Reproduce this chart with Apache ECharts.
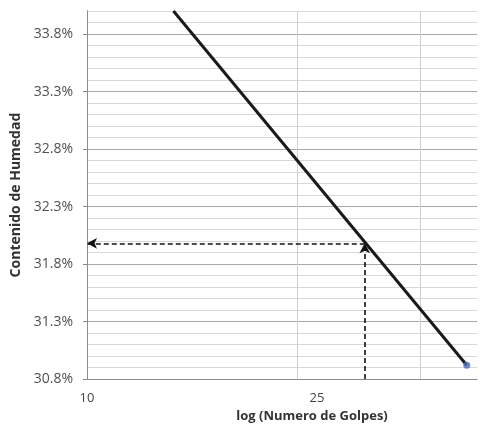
<!DOCTYPE html>
<html><head><meta charset="utf-8">
<script src="https://cdn.jsdelivr.net/npm/echarts@6/dist/echarts.min.js"></script>
<style>html,body{margin:0;padding:0;background:#fff}#c{width:480px;height:428px}</style>
</head><body><div id="c"></div>
<script>
// Trendline endpoints (Numero de Golpes, Contenido de Humedad %)
const golpes = [13.3, 35];
const humedad = [34.0, 30.92];
// Reading at 25 golpes
const golpesRef = 25;
const humedadRef = 31.98;
// Vertical grid values on the log axis
const xGridValues = [20, 30];
// Tick labels
const yMajorTicks = [30.8, 31.3, 31.8, 32.3, 32.8, 33.3, 33.8];
const xTickLabels = [10];
const xExtraLabel = '25';

const FONT = 'Open Sans';
const chart = echarts.init(document.getElementById('c'));
chart.setOption({
  backgroundColor: '#fff',
  animation: false,
  grid: { left: 87, right: 0, top: 11, bottom: 44 },
  xAxis: {
    type: 'log', logBase: 10, min: 10, max: 36.2,
    name: 'log (Numero de Golpes)', nameLocation: 'middle', nameGap: 20,
    nameTextStyle: { fontFamily: FONT, fontWeight: 'bold', fontSize: 13, color: '#333', padding: [0, 0, 0, 60] },
    axisLine: { show: true, lineStyle: { color: '#8a8a8a', width: 1 } },
    axisTick: { show: false },
    splitLine: { show: false },
    axisLabel: {
      fontFamily: FONT, fontSize: 13, color: '#444', margin: 13,
      formatter: v => xTickLabels.some(t => Math.abs(v - t) < 1e-6) ? String(Math.round(v)) : ''
    }
  },
  yAxis: [{
    type: 'value', min: 30.8, max: 34.0, interval: 0.1,
    name: 'Contenido de Humedad', nameLocation: 'middle', nameGap: 58,
    nameTextStyle: { fontFamily: FONT, fontWeight: 'bold', fontSize: 14, color: '#333' },
    axisLine: { show: true, lineStyle: { color: '#8a8a8a', width: 1 } },
    axisTick: { show: false },
    axisLabel: {
      fontFamily: FONT, fontSize: 14, color: '#505050', margin: 14,
      formatter: v => yMajorTicks.some(t => Math.abs(v - t) < 1e-6) ? v.toFixed(1) + '%' : ''
    },
    splitLine: { show: true, lineStyle: { color: ['#a8a8a8', '#d8d8d8', '#d8d8d8', '#d8d8d8', '#d8d8d8'], width: 1 } }
  }, {
    type: 'value', min: 30.8, max: 34.0, interval: 0.5, position: 'left',
    axisLine: { show: true, lineStyle: { color: '#8a8a8a', width: 1 } },
    axisTick: { show: true, length: 4, lineStyle: { color: '#8a8a8a' }, customValues: yMajorTicks },
    axisLabel: { show: false },
    splitLine: { show: false }
  }],
  graphic: [
    { type: 'rect', shape: { x: 293, y: 381, width: 57, height: 24 }, style: { fill: '#fff' }, z: 50 },
    { type: 'text', x: 317, y: 398, z: 51, style: { text: xExtraLabel, fontFamily: FONT, fontSize: 13, fill: '#444', align: 'center', verticalAlign: 'middle' } }
  ],
  series: [
    {
      type: 'line', data: [], silent: true,
      markLine: {
        silent: true, symbol: 'none', label: { show: false },
        lineStyle: { color: '#d0d0d0', width: 1, type: 'solid' },
        data: xGridValues.map(v => ({ xAxis: v }))
      }
    },
    {
      type: 'line', z: 5,
      data: golpes.map((g, i) => [g, humedad[i]]),
      symbol: 'none', lineStyle: { color: '#1a1a1a', width: 3 },
      markLine: {
        silent: true, symbol: ['none', 'arrow'], symbolSize: [8, 10],
        label: { show: false },
        lineStyle: { color: '#111', width: 1.6, type: [5, 3] },
        data: [
          [{ coord: [golpesRef, humedadRef] }, { coord: [10, humedadRef] }],
          [{ coord: [golpesRef, 30.8] }, { coord: [golpesRef, humedadRef] }]
        ]
      }
    },
    {
      type: 'scatter', z: 6,
      data: [[golpes[1], humedad[1]]],
      symbolSize: 7, itemStyle: { color: '#4a6db8' }
    }
  ]
});
</script></body></html>
